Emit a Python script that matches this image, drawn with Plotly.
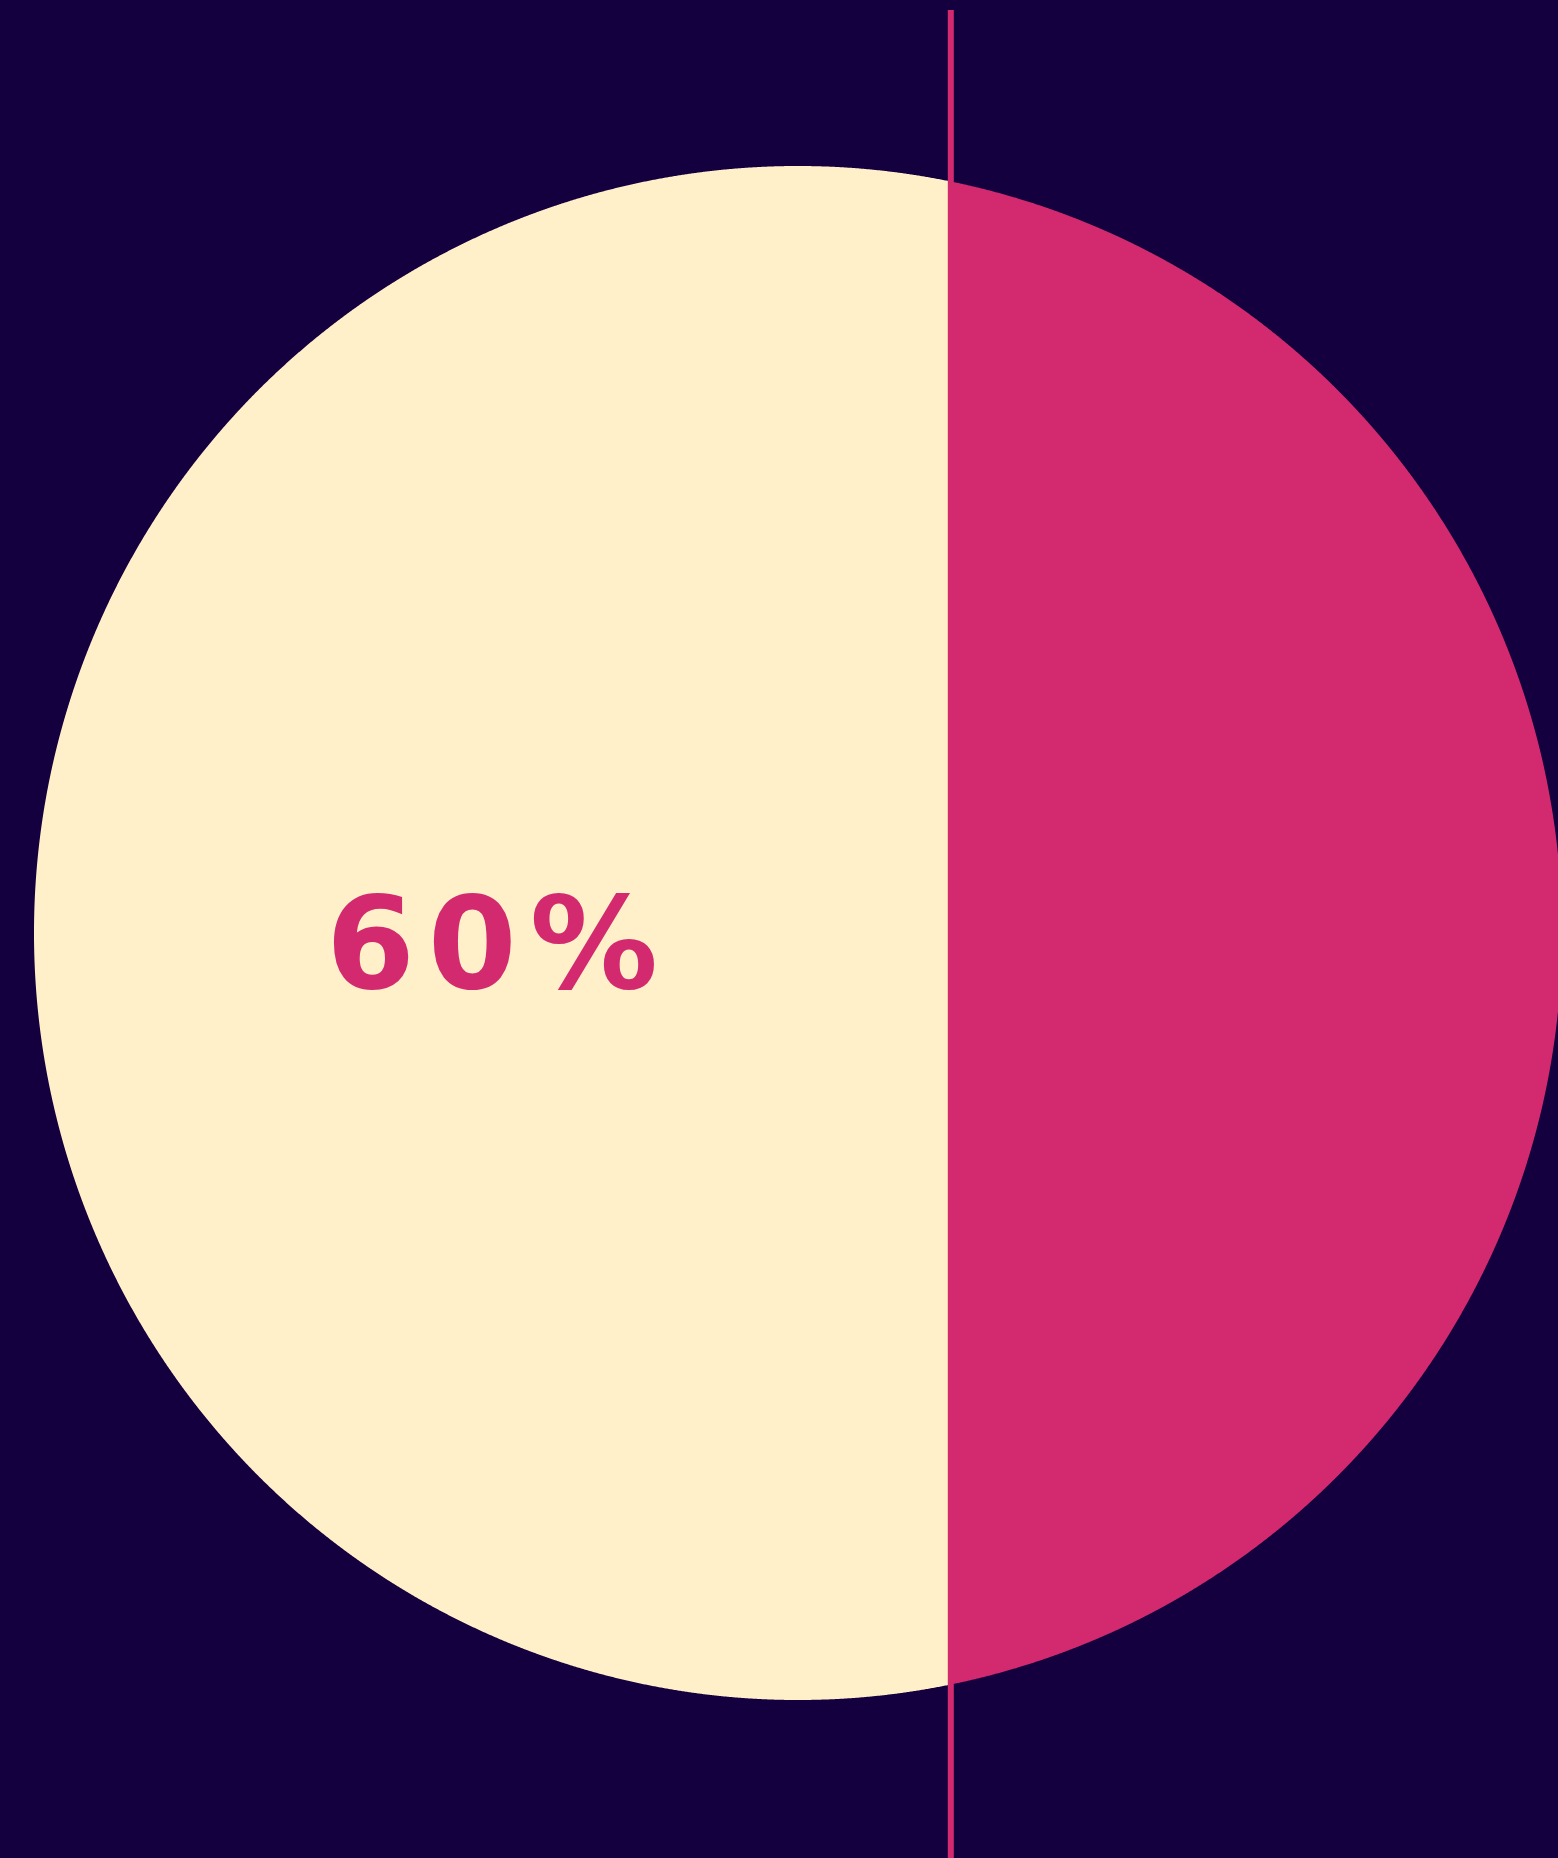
import numpy as np
import plotly.graph_objects as go

# Share shown in the circle (percent), split along the horizontal diameter
share_label = "6\u200a0\u200a%"
share_value = 60.0
total_value = 100.0

BG = "#15003F"
CREAM = "#FFF0CA"
PINK = "#D32A6F"

W, H = 1558, 1858
# pixel placement of the circle inside the page
left_px, diam_x_px = 34.0, 1528.0
center_y_px, diam_y_px = 933.0, 1534.0
ppu_x = diam_x_px / total_value
ppu_y = diam_y_px / total_value
radius = total_value / 2.0

x_range = [-left_px / ppu_x, (W - left_px) / ppu_x]
y_range = [-(H - center_y_px) / ppu_y, center_y_px / ppu_y]


def circle_part(x_lo, x_hi, n=1200):
    """Closed outline of the part of the circle between x_lo and x_hi."""
    a_lo = np.arccos(np.clip((x_lo - radius) / radius, -1, 1))
    a_hi = np.arccos(np.clip((x_hi - radius) / radius, -1, 1))
    t = np.linspace(a_hi, a_lo, n)
    xs = radius + radius * np.cos(t)
    ys = radius * np.sin(t)
    xs = np.concatenate([xs, xs[::-1]])
    ys = np.concatenate([ys, -ys[::-1]])
    return np.append(xs, xs[0]), np.append(ys, ys[0])


fig = go.Figure()

cx, cy = circle_part(0.0, share_value)
fig.add_trace(go.Scatter(x=cx, y=cy, mode="lines", fill="toself",
                         fillcolor=CREAM,
                         line=dict(width=0, color=CREAM, simplify=False),
                         hoverinfo="skip", showlegend=False))

px_, py_ = circle_part(share_value, total_value)
fig.add_trace(go.Scatter(x=px_, y=py_, mode="lines", fill="toself",
                         fillcolor=PINK,
                         line=dict(width=0, color=PINK, simplify=False),
                         hoverinfo="skip", showlegend=False))

# divider marking the share
fig.add_shape(type="line", xref="x", yref="paper",
              x0=share_value, x1=share_value, y0=0, y1=1 - 10 / H,
              line=dict(color=PINK, width=6))

fig.add_annotation(x=share_value / 2, y=0, xref="x", yref="y",
                   text=share_label, showarrow=False,
                   xanchor="center", yanchor="middle", yshift=-10,
                   font=dict(family="DejaVu Sans", size=128, color=PINK,
                             weight="bold"))

fig.update_xaxes(range=x_range, visible=False, fixedrange=True)
fig.update_yaxes(range=y_range, visible=False, fixedrange=True)
fig.update_layout(width=W, height=H, margin=dict(l=0, r=0, t=0, b=0),
                  paper_bgcolor=BG, plot_bgcolor=BG)

fig.write_html("out.html")
